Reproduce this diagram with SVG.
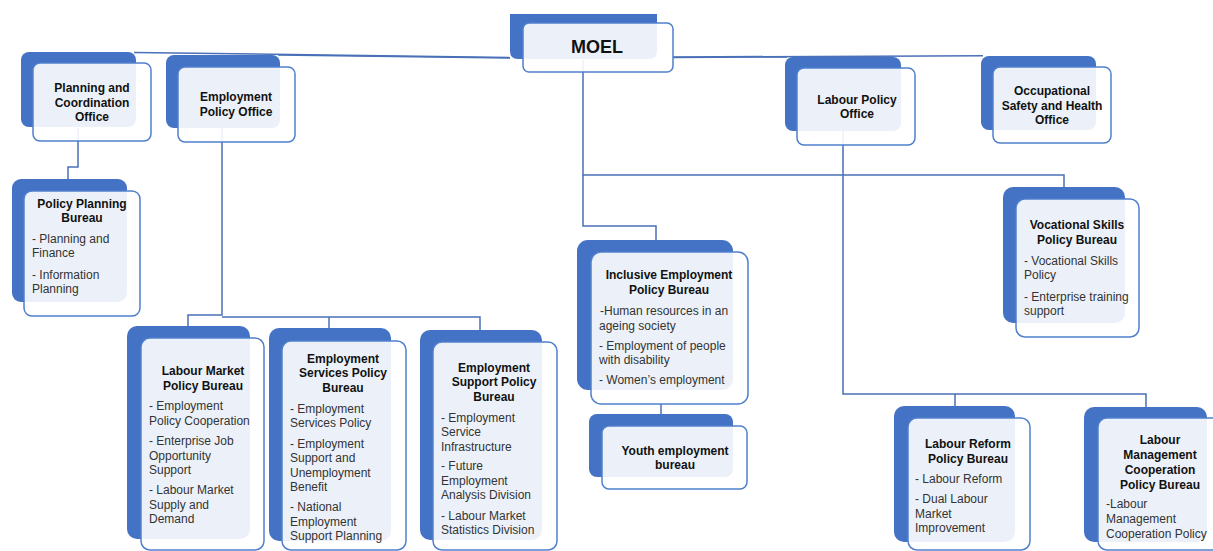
<svg xmlns="http://www.w3.org/2000/svg" width="1213" height="551" viewBox="0 0 1213 551">
<style>
.back{fill:#4472C4}
.front{fill:#fff;fill-opacity:0.9;stroke:#5080CC;stroke-width:1.5}
.conn{fill:none;stroke:#4A70B8;stroke-width:1.5}
.t{font-family:"Liberation Sans",Arial,sans-serif;font-size:12px;font-weight:bold;fill:#111;text-anchor:middle}
.i{font-family:"Liberation Sans",Arial,sans-serif;font-size:12px;fill:#333}
.m{font-family:"Liberation Sans",Arial,sans-serif;font-size:18px;font-weight:bold;fill:#111;text-anchor:middle}
</style>
<rect width="1213" height="551" fill="#fff"/>
<g id="connectors">
<path class="conn" d="M134 52.5 L510 57.5"/>
<path class="conn" d="M278 55 L510 58"/>
<path class="conn" d="M673 57.5 L787 57"/>
<path class="conn" d="M673 57 L983 55.7"/>
<path class="conn" d="M583 60 V175 H1064 V188"/>
<path class="conn" d="M583 175 V226 H656 V240"/>
<path class="conn" d="M661 404 V414"/>
<path class="conn" d="M78 128 V167 H68 V180"/>
<path class="conn" d="M222 128 V315 H188 V326"/>
<path class="conn" d="M222 317 H480 V330"/>
<path class="conn" d="M329 317 V328"/>
<path class="conn" d="M843 131 V394 H1146 V407"/>
<path class="conn" d="M955 394 V406"/>
</g>
<g id="moel">
<path class="back" d="M510 14 H657 V51 Q657 59 649 59 H518 Q510 59 510 51 Z"/>
<rect class="front" x="523" y="23" width="150" height="49" rx="6"/>
<text class="m" x="597" y="53">MOEL</text>
</g>
<g id="planning-office">
<rect class="back" x="21" y="52" width="115" height="75" rx="8"/>
<rect class="front" x="33" y="63" width="118" height="78" rx="7"/>
<text class="t" x="92" y="92">Planning and</text>
<text class="t" x="92" y="106.5">Coordination</text>
<text class="t" x="92" y="121">Office</text>
</g>
<g id="employment-office">
<rect class="back" x="166" y="55" width="114" height="73" rx="8"/>
<rect class="front" x="178" y="67" width="117" height="75" rx="7"/>
<text class="t" x="236" y="101">Employment</text>
<text class="t" x="236" y="115.5">Policy Office</text>
</g>
<g id="labour-office">
<rect class="back" x="785" y="57" width="116" height="74" rx="8"/>
<rect class="front" x="797" y="68" width="118" height="77" rx="7"/>
<text class="t" x="857" y="104">Labour Policy</text>
<text class="t" x="857" y="118">Office</text>
</g>
<g id="osh-office">
<rect class="back" x="981" y="56" width="115" height="74" rx="8"/>
<rect class="front" x="993" y="67" width="118" height="76" rx="7"/>
<text class="t" x="1052" y="95">Occupational</text>
<text class="t" x="1052" y="109.5">Safety and Health</text>
<text class="t" x="1052" y="124">Office</text>
</g>
<g id="policy-planning-bureau">
<rect class="back" x="12" y="179" width="115" height="123" rx="9"/>
<rect class="front" x="24" y="191" width="116" height="125" rx="8"/>
<text class="t" x="82" y="207.5">Policy Planning</text>
<text class="t" x="82" y="222">Bureau</text>
<text class="i" x="32" y="242.5">- Planning and</text>
<text class="i" x="32" y="257">Finance</text>
<text class="i" x="32" y="278.5">- Information</text>
<text class="i" x="32" y="293">Planning</text>
</g>
<g id="labour-market-bureau">
<rect class="back" x="127" y="326" width="123" height="213" rx="10"/>
<rect class="front" x="141" y="338" width="123" height="212" rx="9"/>
<text class="t" x="203" y="375">Labour Market</text>
<text class="t" x="203" y="389.5">Policy Bureau</text>
<text class="i" x="149" y="410">- Employment</text>
<text class="i" x="149" y="424.5">Policy Cooperation</text>
<text class="i" x="149" y="445">- Enterprise Job</text>
<text class="i" x="149" y="459.5">Opportunity</text>
<text class="i" x="149" y="474">Support</text>
<text class="i" x="149" y="494">- Labour Market</text>
<text class="i" x="149" y="508.5">Supply and</text>
<text class="i" x="149" y="523">Demand</text>
</g>
<g id="employment-services-bureau">
<rect class="back" x="269" y="328" width="122" height="213" rx="10"/>
<rect class="front" x="282" y="341" width="124" height="209" rx="9"/>
<text class="t" x="343" y="362.5">Employment</text>
<text class="t" x="343" y="377">Services Policy</text>
<text class="t" x="343" y="392">Bureau</text>
<text class="i" x="290" y="412.5">- Employment</text>
<text class="i" x="290" y="427">Services Policy</text>
<text class="i" x="290" y="447.5">- Employment</text>
<text class="i" x="290" y="462">Support and</text>
<text class="i" x="290" y="476.5">Unemployment</text>
<text class="i" x="290" y="491">Benefit</text>
<text class="i" x="290" y="511">- National</text>
<text class="i" x="290" y="525.5">Employment</text>
<text class="i" x="290" y="540">Support Planning</text>
</g>
<g id="employment-support-bureau">
<rect class="back" x="420" y="330" width="122" height="210" rx="10"/>
<rect class="front" x="433" y="342" width="124" height="208" rx="9"/>
<text class="t" x="494" y="371.5">Employment</text>
<text class="t" x="494" y="386">Support Policy</text>
<text class="t" x="494" y="401">Bureau</text>
<text class="i" x="441" y="421.5">- Employment</text>
<text class="i" x="441" y="436">Service</text>
<text class="i" x="441" y="450.5">Infrastructure</text>
<text class="i" x="441" y="470">- Future</text>
<text class="i" x="441" y="484.5">Employment</text>
<text class="i" x="441" y="499">Analysis Division</text>
<text class="i" x="441" y="519.5">- Labour Market</text>
<text class="i" x="441" y="534">Statistics Division</text>
</g>
<g id="inclusive-bureau">
<rect class="back" x="577" y="240" width="156" height="150" rx="11"/>
<rect class="front" x="591" y="252" width="157" height="152" rx="10"/>
<text class="t" x="669" y="279">Inclusive Employment</text>
<text class="t" x="669" y="294">Policy Bureau</text>
<text class="i" x="600" y="314.5"> -Human resources in an</text>
<text class="i" x="599" y="329.5">ageing society</text>
<text class="i" x="599" y="349.5">- Employment of people</text>
<text class="i" x="599" y="364">with disability</text>
<text class="i" x="599" y="384">- Women’s employment</text>
</g>
<g id="youth-bureau">
<rect class="back" x="589" y="414" width="144" height="63" rx="8"/>
<rect class="front" x="602" y="426" width="145" height="63" rx="7"/>
<text class="t" x="675" y="454.5">Youth employment</text>
<text class="t" x="675" y="469">bureau</text>
</g>
<g id="vocational-bureau">
<rect class="back" x="1003" y="187" width="122" height="136" rx="10"/>
<rect class="front" x="1016" y="199" width="123" height="138" rx="9"/>
<text class="t" x="1077" y="229">Vocational Skills</text>
<text class="t" x="1077" y="244">Policy Bureau</text>
<text class="i" x="1024" y="264.5">- Vocational Skills</text>
<text class="i" x="1024" y="279">Policy</text>
<text class="i" x="1024" y="300.5">- Enterprise training</text>
<text class="i" x="1024" y="315">support</text>
</g>
<g id="labour-reform-bureau">
<rect class="back" x="894" y="406" width="121" height="136" rx="10"/>
<rect class="front" x="908" y="418" width="122" height="132" rx="9"/>
<text class="t" x="968" y="447.5">Labour Reform</text>
<text class="t" x="968" y="462.5">Policy Bureau</text>
<text class="i" x="915" y="482.5">- Labour Reform</text>
<text class="i" x="915" y="503">- Dual Labour</text>
<text class="i" x="915" y="517.5">Market</text>
<text class="i" x="915" y="532">Improvement</text>
</g>
<g id="labour-management-bureau">
<rect class="back" x="1084" y="407" width="123" height="135" rx="10"/>
<rect class="front" x="1098" y="418" width="125" height="132" rx="9"/>
<text class="t" x="1160" y="444">Labour</text>
<text class="t" x="1160" y="459">Management</text>
<text class="t" x="1160" y="473.5">Cooperation</text>
<text class="t" x="1160" y="488.5">Policy Bureau</text>
<text class="i" x="1106" y="508">-Labour</text>
<text class="i" x="1106" y="523">Management</text>
<text class="i" x="1106" y="537.5">Cooperation Policy</text>
</g>
</svg>
